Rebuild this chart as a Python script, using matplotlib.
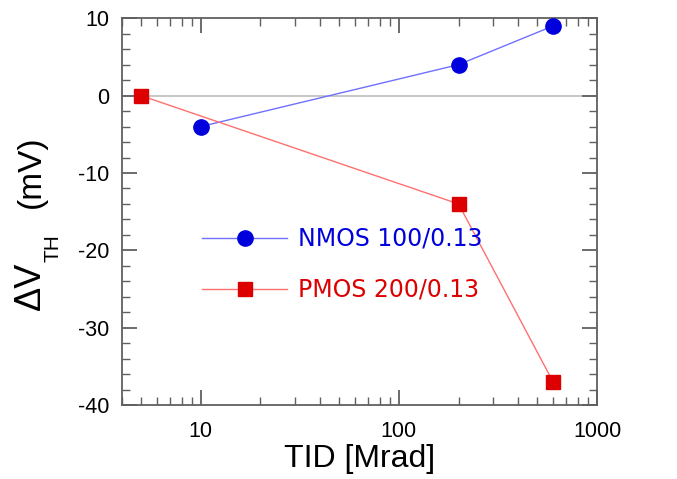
import numpy as np
import matplotlib
matplotlib.use('Agg')
import matplotlib.pyplot as plt
from matplotlib.ticker import LogLocator, MultipleLocator, NullFormatter, FixedLocator, FixedFormatter

plt.rcParams['font.family'] = ['Liberation Sans', 'DejaVu Sans']
plt.rcParams['axes.unicode_minus'] = False

# TID dose [Mrad] vs threshold shift [mV]
nmos_tid = [10, 200, 600]
nmos_dvth = [-4, 4, 9]
pmos_tid = [5, 200, 600]
pmos_dvth = [0, -14, -37]

NMOS_LABEL = 'NMOS 100/0.13'
PMOS_LABEL = 'PMOS 200/0.13'

fig = plt.figure(figsize=(6.77, 4.79), dpi=100)
ax = fig.add_axes([0.180, 0.154, 0.702, 0.808])

ax.axhline(0, color='#b8b8b8', linewidth=1.1, zorder=1)

ax.plot(nmos_tid, nmos_dvth, color='#7070ff', linewidth=1.0, zorder=2)
ax.plot(nmos_tid, nmos_dvth, 'o', color='#0000dd', markersize=11, zorder=3)
ax.plot(pmos_tid, pmos_dvth, color='#ff7070', linewidth=1.0, zorder=2)
ax.plot(pmos_tid, pmos_dvth, 's', color='#dd0000', markersize=10, zorder=3)

ax.set_xscale('log')
ax.set_xlim(4, 1000)
ax.set_ylim(-40, 10)

ax.xaxis.set_major_locator(FixedLocator([10, 100, 1000]))
ax.xaxis.set_major_formatter(FixedFormatter(['10', '100', '1000']))
ax.xaxis.set_minor_locator(LogLocator(base=10, subs=np.arange(2, 10)))
ax.xaxis.set_minor_formatter(NullFormatter())
ax.yaxis.set_major_locator(MultipleLocator(10))
ax.yaxis.set_minor_locator(MultipleLocator(2))

for s in ax.spines.values():
    s.set_color('#606060')
    s.set_linewidth(1.3)

ax.tick_params(which='both', direction='in', top=True, right=True,
               color='#606060', labelsize=15.5, labelcolor='black')
ax.tick_params(which='major', length=11, width=1.3)
ax.tick_params(axis='x', which='major', pad=11)
ax.tick_params(axis='y', which='major', pad=9)
ax.tick_params(which='minor', length=5.5, width=1.0)

ax.set_xlabel('TID [Mrad]', fontsize=23, labelpad=2)

# y label built from pieces so the subscript sits well below the baseline
lab_kw = dict(rotation=90, rotation_mode='anchor', ha='left', va='baseline')
fig.text(0.059, 0.353, 'ΔV', fontsize=26, **lab_kw)
fig.text(0.087, 0.454, 'TH', fontsize=15, **lab_kw)
fig.text(0.059, 0.566, '(mV)', fontsize=24, **lab_kw)

# hand-placed legend with coloured text
lx0, lx1, lxm = 0.168, 0.347, 0.259
for y, c_line, c_mark, mk, ms, lab in [
        (0.4315, '#7070ff', '#0000dd', 'o', 11, NMOS_LABEL),
        (0.2997, '#ff7070', '#dd0000', 's', 10, PMOS_LABEL)]:
    ax.plot([lx0, lx1], [y, y], color=c_line, linewidth=1.0, transform=ax.transAxes)
    ax.plot([lxm], [y], mk, color=c_mark, markersize=ms, transform=ax.transAxes)
    ax.text(0.3705, y, lab, color=c_mark, fontsize=17, va='center', ha='left',
            family='DejaVu Sans', transform=ax.transAxes)

fig.savefig('out.png', dpi=100)
